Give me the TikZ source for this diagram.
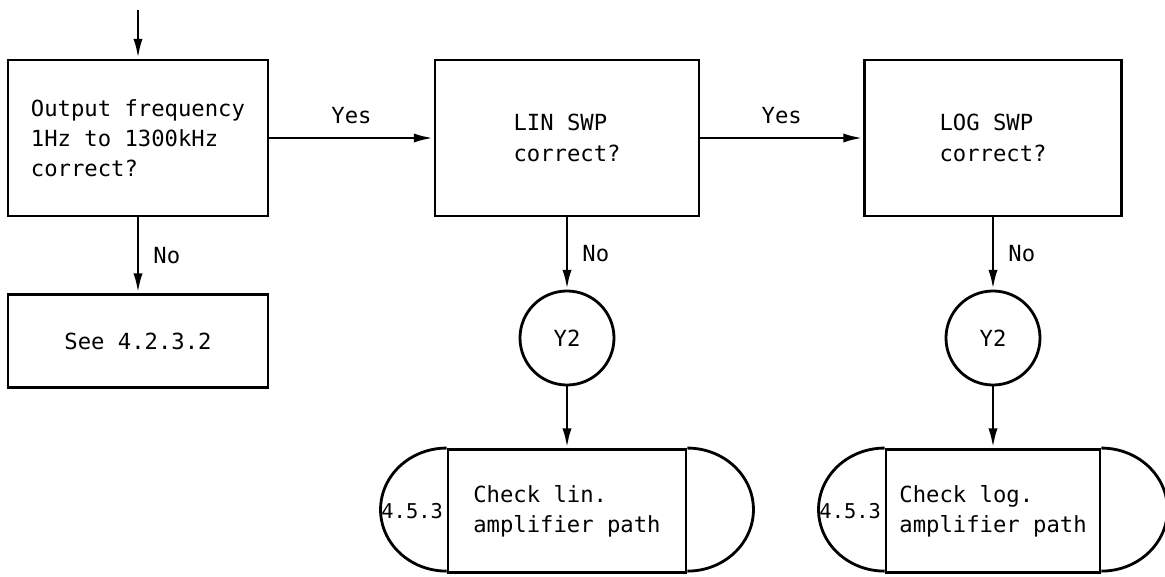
\documentclass[tikz,border=0pt]{standalone}
\usepackage{fontspec}
\setmonofont{DejaVu Sans Mono}
\usepackage{tikz}
\usetikzlibrary{
  arrows.meta,
  positioning,
  shapes.geometric
}

\begin{document}
\begin{tikzpicture}[
    x=0.025cm, y=-0.025cm,
    font=\ttfamily\fontsize{15.8}{21.5}\selectfont,
    line width=2pt,
    >={Latex[length=14pt,width=6.5pt]},
    box/.style={
      rectangle, draw, align=left,
      minimum height=3.9cm, inner sep=0pt
    },
    conn/.style={circle, draw, minimum size=2.35cm, inner sep=0pt},
    term/.style={
      rectangle, draw, align=left,
      minimum height=3.075cm, inner sep=0pt
    },
    lbl/.style={inner sep=0pt},
  ]
    \useasboundingbox (0,0) rectangle (1165,577);

    \coordinate (in) at (138,10);
    \node[box, minimum width=6.5cm]   (ofreq)  at (138,138) {Output frequency\\1Hz to 1300kHz\\correct?};
    \node[box, minimum width=6.5cm, minimum height=2.325cm] (see) at (138,341) {See 4.2.3.2};
    \node[box, minimum width=6.6cm]   (linswp) at (567,138) {LIN SWP\\correct?};
    \node[box, minimum width=6.425cm] (logswp) at (993,138) {LOG SWP\\correct?};

    \node[conn] (y2a) at (567,338) {Y2};
    \node[conn] (y2b) at (993,338) {Y2};

    % terminals
    \node[term, minimum width=5.95cm] (chk1) at (567,511) {Check lin.\\amplifier path};
    \node[term, minimum width=5.35cm] (chk2) at (993,511) {Check log.\\amplifier path};
    \foreach \t in {chk1,chk2}{
      \draw (\t.north west) arc[start angle=90, end angle=270, x radius=1.65cm, y radius=1.5375cm];
      \draw (\t.north east) arc[start angle=90, end angle=-90, x radius=1.65cm, y radius=1.5375cm];
      \node[lbl, font=\ttfamily\fontsize{14.5}{16}\selectfont] (\t ref) at ([xshift=-0.86cm]\t.west) {4.5.3};
    }

    \draw[->] (in) -- (ofreq);
    \foreach \a/\b in {ofreq/linswp,linswp/logswp}{
      \draw[->] (\a) -- node[lbl, above=9pt] {Yes} (\b);
    }
    \foreach \a/\b in {ofreq/see,linswp/y2a,logswp/y2b}{
      \draw[->] (\a) -- node[lbl, right=10pt] {No} (\b);
    }
    \foreach \a/\b in {y2a/chk1,y2b/chk2}{
      \draw[->] (\a) -- (\b);
    }
  \end{tikzpicture}
\end{document}
